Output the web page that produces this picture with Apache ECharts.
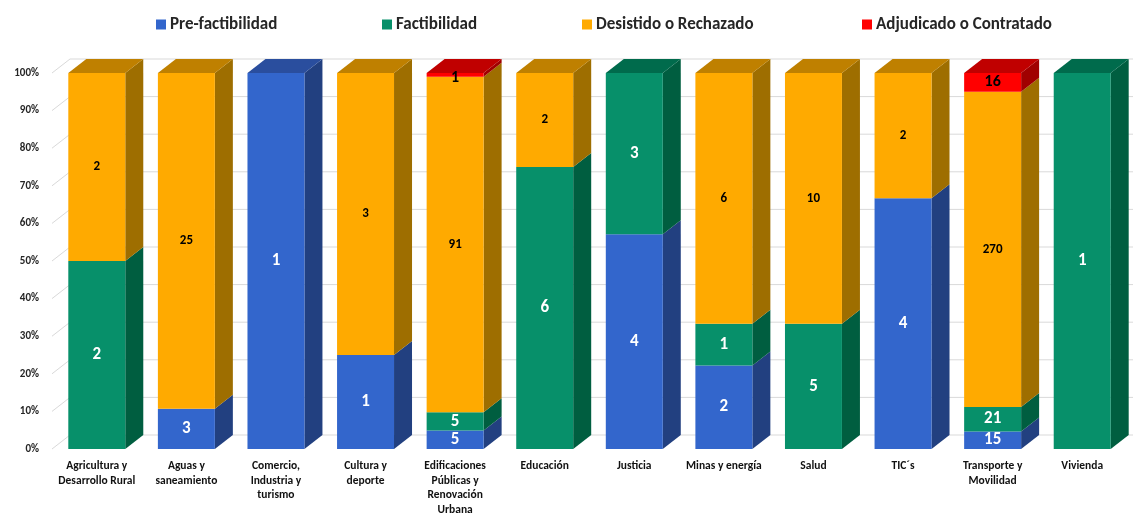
<!DOCTYPE html>
<html>
<head>
<meta charset="utf-8">
<script src="https://cdn.jsdelivr.net/npm/echarts@6/dist/echarts.min.js"></script>
<style>
html,body{margin:0;padding:0;background:#fff;}
#chart{width:1133px;height:517px;}
</style>
</head>
<body>
<div id="chart"></div>
<script>
var categories = ["Agricultura y\nDesarrollo Rural","Aguas y\nsaneamiento","Comercio,\nIndustria y\nturismo","Cultura y\ndeporte","Edificaciones\nPúblicas y\nRenovación\nUrbana","Educación","Justicia","Minas y energía","Salud","TIC´s","Transporte y\nMovilidad","Vivienda"];
var seriesNames = ["Pre-factibilidad","Factibilidad","Desistido o Rechazado","Adjudicado o Contratado"];
var preFactibilidad = [0,3,1,1,5,0,4,2,0,4,15,0];
var factibilidad = [2,0,0,0,5,6,3,1,5,0,21,1];
var desistido = [2,25,0,3,91,2,0,6,10,2,270,0];
var adjudicado = [0,0,0,0,1,0,0,0,0,0,16,0];
var yTicks = [0,10,20,30,40,50,60,70,80,90,100];

var allSeries = [preFactibilidad, factibilidad, desistido, adjudicado];
var frontColors = ['#3366CC','#07906A','#FFAA00','#FF0000'];
var topColors = ['#2A4E9E','#006B4C','#BF8000','#C00000'];
var sideColors = ['#224080','#005E40','#9E6E00','#A00000'];
var labelColors = ['#ffffff','#ffffff','#000000','#000000'];
var labelSizes = [17,17,13,16];

var totals = categories.map(function(c,i){
  return allSeries.reduce(function(s,a){return s+a[i];},0);
});
function pct(si,i){ return totals[i] ? allSeries[si][i]/totals[i]*100 : 0; }
function topIndex(i){ var t=-1; for(var s=0;s<allSeries.length;s++){ if(allSeries[s][i]>0) t=s; } return t; }

var DX = 18, DY = 14;
var FONT = 'Carlito, Lato, "Noto Sans", sans-serif';

function makeRender(si){
  return function(params, api){
    var i = api.value(0);
    var v = allSeries[si][i];
    if(!v) return null;
    var base = 0;
    for(var s=0;s<si;s++) base += pct(s,i);
    var top = base + pct(si,i);
    var p0 = api.coord([i, base]);
    var p1 = api.coord([i, top]);
    var w = api.size([1,0])[0]*0.636;
    var xl = p0[0]-w/2, xr = p0[0]+w/2;
    var yb = p0[1], yt = p1[1];
    var children = [
      {type:'polygon', shape:{points:[[xr,yt],[xr+DX,yt-DY],[xr+DX,yb-DY],[xr,yb]]}, style:{fill:sideColors[si]}},
      {type:'rect', shape:{x:xl,y:yt,width:w,height:yb-yt}, style:{fill:frontColors[si]}}
    ];
    if(topIndex(i)===si){
      children.push({type:'polygon', shape:{points:[[xl,yt],[xl+DX,yt-DY],[xr+DX,yt-DY],[xr,yt]]}, style:{fill:topColors[si]}});
    }
    children.push({type:'text', z2:10, style:{
      text:String(v), x:p0[0], y:(yt+yb)/2 + (si===3 && (yb-yt)<8 ? 3 : 0),
      align:'center', verticalAlign:'middle',
      fill:labelColors[si], font:'bold '+labelSizes[si]+'px '+FONT
    }});
    return {type:'group', children:children};
  };
}

var series = [{
  type:'custom', name:'_grid', silent:true, z:0,
  data: yTicks.map(function(t){return [0,t];}),
  encode:{x:0,y:1},
  renderItem:function(params, api){
    var cs = params.coordSys;
    var y = api.coord([0, api.value(1)])[1];
    return {type:'polyline', shape:{points:[[cs.x,y],[cs.x+DX,y-DY],[cs.x+cs.width+DX,y-DY]]},
      style:{stroke:'#D9D9D9', lineWidth:1, fill:null}};
  }
}];
seriesNames.forEach(function(n,si){
  series.push({
    type:'custom', name:n, z:2,
    itemStyle:{color:frontColors[si]},
    data: categories.map(function(c,i){return [i, pct(si,i)];}),
    encode:{x:0,y:1},
    renderItem: makeRender(si)
  });
});

var legendLefts = [151,377,577,857];
var legends = seriesNames.map(function(n,k){
  return {data:[n], left:legendLefts[k], top:11, icon:'rect', itemWidth:10, itemHeight:10, itemGap:6,
    selectedMode:false, textStyle:{fontSize:17, fontWeight:'bold', color:'#262626', fontFamily:FONT, padding:[0,0,0,-1]}};
});

var chart = echarts.init(document.getElementById('chart'));
chart.setOption({
  animation:false,
  backgroundColor:'#fff',
  legend: legends,
  grid:{left:52, right:6, top:73, bottom:64},
  xAxis:{type:'category', data:categories,
    axisLine:{show:false}, axisTick:{show:false},
    axisLabel:{interval:0, fontSize:11.5, fontWeight:'bold', lineHeight:14.5, color:'#111', fontFamily:FONT, margin:10}},
  yAxis:{type:'value', min:0, max:100, interval:10,
    splitLine:{show:false}, axisLine:{show:false}, axisTick:{show:false},
    axisLabel:{formatter:'{value}%', fontSize:11, fontWeight:'bold', color:'#262626', fontFamily:FONT, margin:13}},
  series: series
});
</script>
</body>
</html>
